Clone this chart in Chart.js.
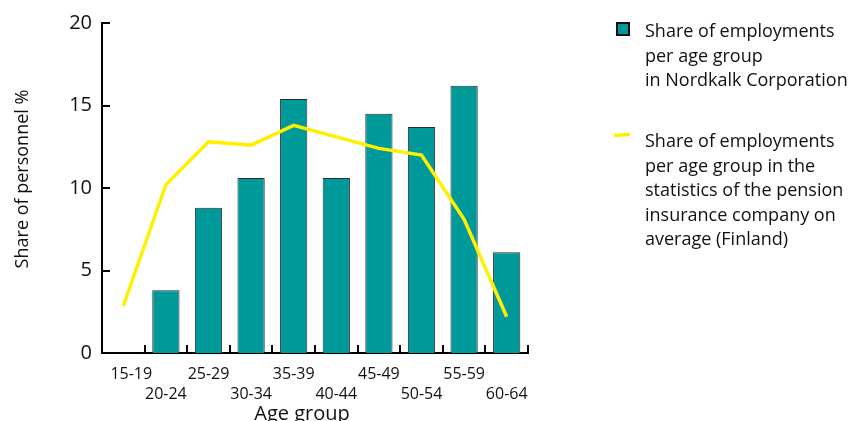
<!DOCTYPE html>
<html>
<head>
<meta charset="utf-8">
<script src="https://cdn.jsdelivr.net/npm/chart.js@4.4.1/dist/chart.umd.min.js"></script>
<style>
  html, body { margin: 0; padding: 0; background: #fff; }
  #wrap { position: relative; width: 857px; height: 421px; }
</style>
</head>
<body>
<div id="wrap"><canvas id="c" width="857" height="421"></canvas></div>
<script>
// Age groups on the x axis
const ageGroups = ['15-19', '20-24', '25-29', '30-34', '35-39', '40-44', '45-49', '50-54', '55-59', '60-64'];
// Share of employments per age group in Nordkalk Corporation (%)
const nordkalkShare = [0, 3.8, 8.8, 10.6, 15.4, 10.6, 14.5, 13.7, 16.2, 6.1];
// Share of employments per age group, pension insurance company average, Finland (%)
const finlandShare = [2.85, 10.2, 12.8, 12.6, 13.8, 13.1, 12.4, 12.0, 8.1, 2.2];
// Y axis ticks
const yTicks = [0, 5, 10, 15, 20];

const nordkalkLabel = ['Share of employments', 'per age group', 'in Nordkalk Corporation'];
const finlandLabel = ['Share of employments', 'per age group in the', 'statistics of the pension', 'insurance company on', 'average (Finland)'];

const FONT = '"Open Sans", "Noto Sans", sans-serif';
const TEAL = '#009999';
const YELLOW = '#FFF000';

// Alternate category labels between two rows; the first one is nudged clear of the y axis
const rowLabels = ageGroups.map((g, i) => {
  const text = i === 0 ? '\u2002\u2002' + g : g;
  return i % 2 === 0 ? [text, ''] : ['', text];
});

// Inward tick marks, axis titles and the side legend
const decorations = {
  id: 'decorations',
  afterDraw(chart) {
    const ctx = chart.ctx;
    const x = chart.scales.x, y = chart.scales.y;
    ctx.save();
    ctx.strokeStyle = '#000';
    ctx.lineWidth = 2;
    // category boundary ticks pointing up from the x axis
    const n = ageGroups.length;
    const step = (x.right - x.left) / n;
    for (let i = 1; i <= n; i++) {
      const px = Math.round(x.left + i * step);
      ctx.beginPath();
      ctx.moveTo(px, y.bottom);
      ctx.lineTo(px, y.bottom - 8);
      ctx.stroke();
    }
    // value ticks pointing right from the y axis
    yTicks.forEach(v => {
      const py = Math.round(y.getPixelForValue(v));
      ctx.beginPath();
      ctx.moveTo(x.left, py);
      ctx.lineTo(x.left + 8, py);
      ctx.stroke();
    });

    // axis titles
    ctx.fillStyle = '#111';
    ctx.font = '20px ' + FONT;
    ctx.textAlign = 'center';
    ctx.textBaseline = 'alphabetic';
    ctx.fillText('Age group', 302, 420);

    ctx.save();
    ctx.translate(28, 179);
    ctx.rotate(-Math.PI / 2);
    ctx.font = '18px ' + FONT;
    ctx.textBaseline = 'alphabetic';
    ctx.fillText('Share of personnel %', 0, 0);
    ctx.restore();

    // legend
    const lx = 645;
    ctx.font = '18px ' + FONT;
    ctx.textAlign = 'left';
    // bar series swatch
    ctx.fillStyle = TEAL;
    ctx.fillRect(617, 23, 12, 12);
    ctx.strokeStyle = '#111';
    ctx.lineWidth = 2;
    ctx.strokeRect(617, 23, 12, 12);
    ctx.fillStyle = '#111';
    nordkalkLabel.forEach((t, i) => ctx.fillText(t, lx, 37 + i * 24.5));
    // line series swatch
    ctx.strokeStyle = YELLOW;
    ctx.lineWidth = 3.5;
    ctx.beginPath();
    ctx.moveTo(614, 135.5);
    ctx.lineTo(630, 134.5);
    ctx.stroke();
    finlandLabel.forEach((t, i) => ctx.fillText(t, lx, 147 + i * 24.5));
    ctx.restore();
  }
};

new Chart(document.getElementById('c'), {
  data: {
    labels: rowLabels,
    datasets: [
      {
        type: 'line',
        label: finlandLabel.join(' '),
        data: finlandShare,
        borderColor: YELLOW,
        borderWidth: 3.5,
        pointRadius: 0,
        tension: 0,
        fill: false,
        order: 0
      },
      {
        type: 'bar',
        label: nordkalkLabel.join(' '),
        data: nordkalkShare,
        backgroundColor: TEAL,
        borderColor: '#2b2b2b',
        borderWidth: 1,
        categoryPercentage: 0.64,
        barPercentage: 1.0,
        order: 1
      }
    ]
  },
  options: {
    responsive: false,
    animation: false,
    devicePixelRatio: 1,
    layout: { padding: { left: 0, top: 23, right: 329, bottom: 0 } },
    plugins: { legend: { display: false }, tooltip: { enabled: false } },
    scales: {
      x: {
        type: 'category',
        offset: true,
        grid: { display: false, drawTicks: false },
        border: { display: true, color: '#000', width: 2 },
        ticks: {
          color: '#111',
          font: { family: FONT, size: 16, lineHeight: 1.25 },
          padding: 11,
          maxRotation: 0,
          autoSkip: false
        },
        afterFit(scale) { scale.height = 68; }
      },
      y: {
        min: 0,
        max: 20,
        grid: { display: false, drawTicks: false },
        border: { display: true, color: '#000', width: 2 },
        afterBuildTicks(scale) { scale.ticks = yTicks.map(v => ({ value: v })); },
        ticks: {
          color: '#111',
          font: { family: FONT, size: 20 },
          padding: 10
        },
        afterFit(scale) { scale.width = 102; }
      }
    }
  },
  plugins: [decorations]
});
</script>
</body>
</html>
